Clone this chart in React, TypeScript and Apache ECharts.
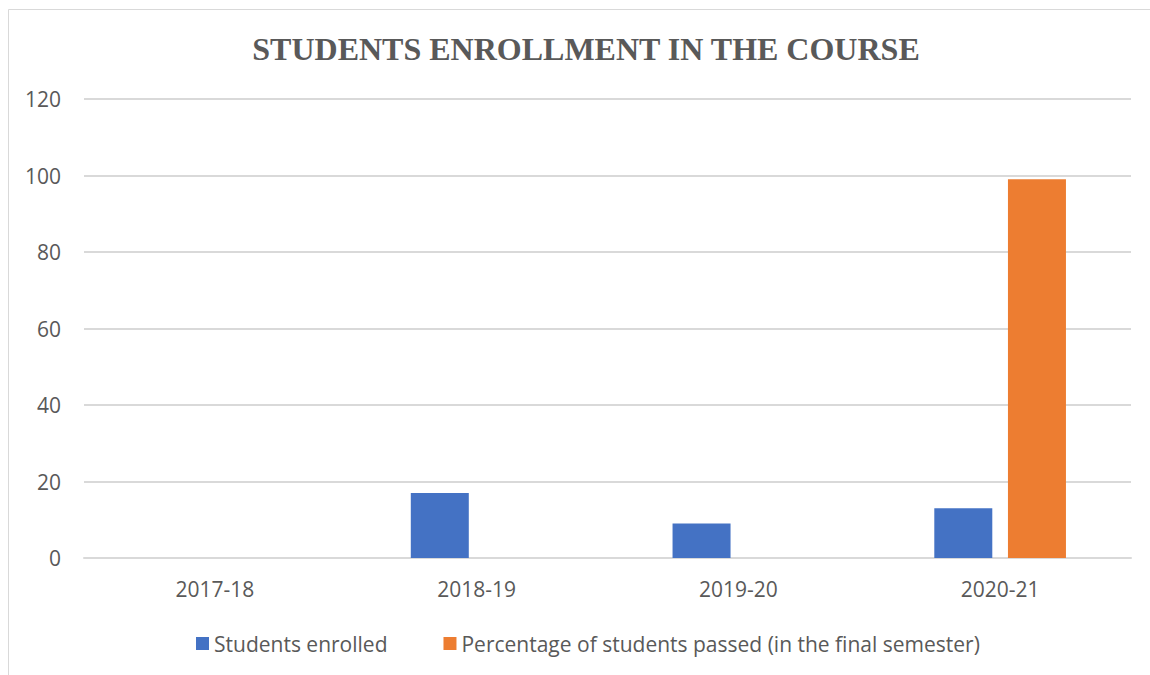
import React, { useEffect, useRef } from "react";
import * as echarts from "echarts";

const categories = ["2017-18", "2018-19", "2019-20", "2020-21"];
const enrolled = [0, 17, 9, 13];
const passedPct = [0, 0, 0, 99];
const seriesNames = ["Students enrolled", "Percentage of students passed (in the final semester)"];
const titleText = "STUDENTS ENROLLMENT IN THE COURSE";

export default function App() {
  const ref = useRef<HTMLDivElement>(null);
  useEffect(() => {
    if (!ref.current) return;
    const chart = echarts.init(ref.current, null, { renderer: "svg" });
    const font = "'Open Sans', sans-serif";
    chart.setOption({
      animation: false,
      backgroundColor: "#ffffff",
      title: {
        text: titleText,
        left: 581,
        top: 28,
        textAlign: "center",
        textStyle: {
          fontFamily: "'Liberation Serif', 'Times New Roman', serif",
          fontWeight: "bold",
          fontSize: 32,
          color: "#595959",
        },
      },
      graphic: [
        {
          type: "rect",
          shape: { x: 8.5, y: 9.5, width: 1200, height: 700 },
          style: { fill: "none", stroke: "#d9d9d9", lineWidth: 1 },
          silent: true,
          z: -1,
        },
      ],
      legend: {
        left: 191,
        top: 628,
        width: 960,
        itemWidth: 13,
        itemHeight: 13,
        itemGap: 56,
        icon: "rect",
        textStyle: { fontFamily: font, fontSize: 21, color: "#595959" },
        data: seriesNames,
      },
      grid: { left: 84, right: 19, top: 99, bottom: 117, containLabel: false },
      xAxis: {
        type: "category",
        data: categories,
        axisLine: { show: true, lineStyle: { color: "#d9d9d9", width: 2 } },
        axisTick: { show: false },
        axisLabel: { fontFamily: font, fontSize: 21, color: "#595959", margin: 20 },
      },
      yAxis: {
        type: "value",
        min: 0,
        max: 120,
        interval: 20,
        axisLine: { show: false },
        axisTick: { show: false },
        splitLine: { lineStyle: { color: "#d9d9d9", width: 2 } },
        axisLabel: { fontFamily: font, fontSize: 21, color: "#595959", margin: 23 },
      },
      series: [
        {
          name: seriesNames[0],
          type: "bar",
          data: enrolled,
          barWidth: 58,
          barGap: "27%",
          itemStyle: { color: "#4472c4" },
        },
        {
          name: seriesNames[1],
          type: "bar",
          data: passedPct,
          barWidth: 58,
          barGap: "27%",
          itemStyle: { color: "#ed7d31" },
        },
      ],
    });
    return () => chart.dispose();
  }, []);
  return (
    <div
      ref={ref}
      style={{ position: "fixed", left: 0, top: 0, width: 1150, height: 675 }}
    />
  );
}
